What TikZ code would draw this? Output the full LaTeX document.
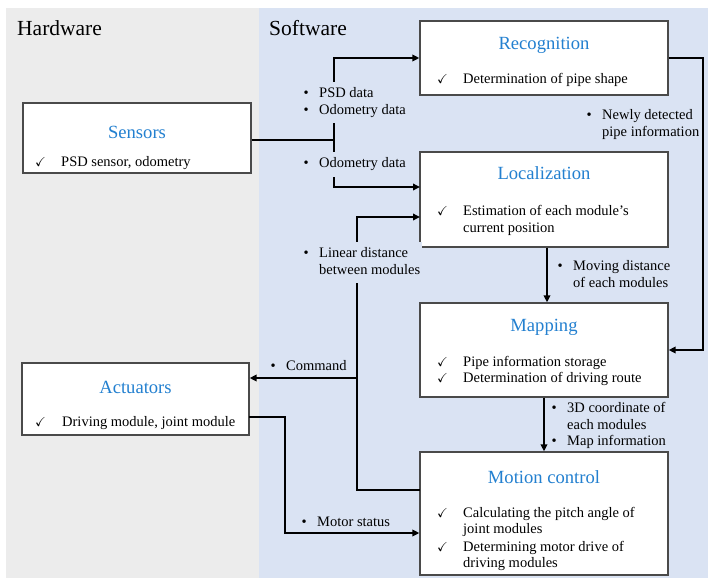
\documentclass[tikz,border=0pt]{standalone}
\usepackage{amssymb}
\usepackage{fontspec}
\setmainfont{Liberation Serif}
\usetikzlibrary{arrows.meta}

\definecolor{hwgray}{HTML}{ECECEC}
\definecolor{swblue}{HTML}{DAE3F3}
\definecolor{edgegray}{HTML}{4A4A4A}
\definecolor{titleblue}{HTML}{2380D0}

\newcommand{\bodyfont}{\fontsize{14.5}{16.5}\selectfont}
\newcommand{\titlefont}{\fontsize{18.6}{22}\selectfont}
\newcommand{\headfont}{\fontsize{21.5}{25}\selectfont}
\newcommand{\tick}{{\fontsize{13}{13}\selectfont$\checkmark$}}
\newcommand{\bul}{\strut\makebox[15.5pt][l]{\textbullet}}
\newcommand{\cont}{\strut\hspace*{15.5pt}}

\tikzset{
  modbox/.style={draw=edgegray, line width=1.3pt, fill=white, inner sep=0pt},
  ttl/.style={font=\titlefont, text=titleblue, anchor=base, inner sep=0pt},
  itm/.style={font=\bodyfont, anchor=base west, inner sep=0pt},
  chk/.style={anchor=base west, inner sep=0pt},
  lbl/.style={font=\bodyfont, anchor=north west, align=left, inner sep=0pt},
  mask/.style={fill=swblue, inner xsep=2pt, inner ysep=4pt},
  head/.style={font=\headfont, anchor=base west, inner sep=0pt},
  conn/.style={line width=1.9pt, draw=black},
  arr/.style={conn, -{Triangle[length=7pt,width=6.5pt]}},
}

\begin{document}
\begin{tikzpicture}[x=1pt, y=-1pt]
  \useasboundingbox (0,0) rectangle (708,578);

  % panels
  \fill[hwgray] (6,8) rectangle (259,578);
  \fill[swblue] (259,8) rectangle (708,578);
  \node[head] (hw) at (17,36) {Hardware};
  \node[head] (sw) at (269,36) {Software};

  % module boxes
  \node[modbox, minimum width=228pt, minimum height=70pt] (sens) at (137,138) {};
  \node[modbox, minimum width=227pt, minimum height=72pt] (act) at (135.5,399) {};
  \node[modbox, minimum width=248pt, minimum height=74pt] (reco) at (544,58) {};
  \node[modbox, minimum width=248pt, minimum height=95pt] (loc) at (544,199.5) {};
  \node[modbox, minimum width=248pt, minimum height=94pt] (map) at (544,350) {};
  \node[modbox, minimum width=248pt, minimum height=123pt] (mot) at (544,513.5) {};

  % junctions and ports
  \coordinate (j1) at (334,140);
  \coordinate (j2) at (357,378);
  \coordinate (j3) at (285,533);
  \coordinate (locA) at (420,187);
  \coordinate (locB) at (420,217);
  \coordinate (motA) at (420,490);
  \coordinate (actA) at (249,417);

  % connectors
  \draw[conn] (sens.east |- j1) -- (j1);
  \draw[arr] (j1) |- (reco.west);
  \draw[arr] (j1) |- (locA);
  \draw[arr] (reco.east) -- (reco.east -| 703,0) |- (map.east);
  \draw[arr] (loc.south -| 547,0) -- (map.north -| 547,0);
  \draw[arr] (map.south) -- (mot.north);
  \draw[arr] (motA) -| (j2) |- (locB);
  \draw[arr] (j2) -- (act.east |- j2);
  \draw[arr] (actA) -| (j3) -- (mot.west |- j3);

  % connector labels (the shaded ones break the line they sit on)
  \node[lbl, mask] (l1) at (301.5,81.95) {\bul PSD data\\\bul Odometry data};
  \node[lbl, mask] (l2) at (301.5,151.95) {\bul Odometry data};
  \node[lbl, mask] (l3) at (301.5,241.95) {\bul Linear distance\\\cont between modules};
  \node[lbl] (l4) at (270.5,358.95) {\bul Command};
  \node[lbl] (l5) at (301.5,514.95) {\bul Motor status};
  \node[lbl] (l6) at (586.5,107.95) {\bul Newly detected\\\cont pipe information};
  \node[lbl] (l7) at (557.5,258.95) {\bul Moving distance\\\cont of each modules};
  \node[lbl] (l8) at (551.5,400.95) {\bul 3D coordinate of\\\cont each modules\\\bul Map information};

  % box contents
  \node[ttl] (sensT) at (137,138) {Sensors};
  \node[chk] (sensC) at (35,166.5) {\tick};
  \node[itm] (sensI) at (61,166.5) {PSD sensor, odometry};

  \node[ttl] (actT) at (135.5,393) {Actuators};
  \node[chk] (actC) at (35,426.5) {\tick};
  \node[itm] (actI) at (62,426.5) {Driving module, joint module};

  \node[ttl] (recoT) at (544,49) {Recognition};
  \node[chk] (recoC) at (437,83.5) {\tick};
  \node[itm] (recoI) at (463,83.5) {Determination of pipe shape};

  \node[ttl] (locT) at (544,179) {Localization};
  \node[chk] (locC) at (437,215.5) {\tick};
  \node[itm] (locI1) at (463,215.5) {Estimation of each module's};
  \node[itm] (locI2) at (463,232.5) {current position};

  \node[ttl] (mapT) at (544,331) {Mapping};
  \node[chk] (mapC1) at (437,366.5) {\tick};
  \node[itm] (mapI1) at (463,366.5) {Pipe information storage};
  \node[chk] (mapC2) at (437,382.5) {\tick};
  \node[itm] (mapI2) at (463,382.5) {Determination of driving route};

  \node[ttl] (motT) at (544,483) {Motion control};
  \node[chk] (motC1) at (437,517.5) {\tick};
  \node[itm] (motI1) at (463,517.5) {Calculating the pitch angle of};
  \node[itm] (motI2) at (463,533.5) {joint modules};
  \node[chk] (motC2) at (437,551.5) {\tick};
  \node[itm] (motI3) at (463,551.5) {Determining motor drive of};
  \node[itm] (motI4) at (463,567.5) {driving modules};
\end{tikzpicture}
\end{document}
